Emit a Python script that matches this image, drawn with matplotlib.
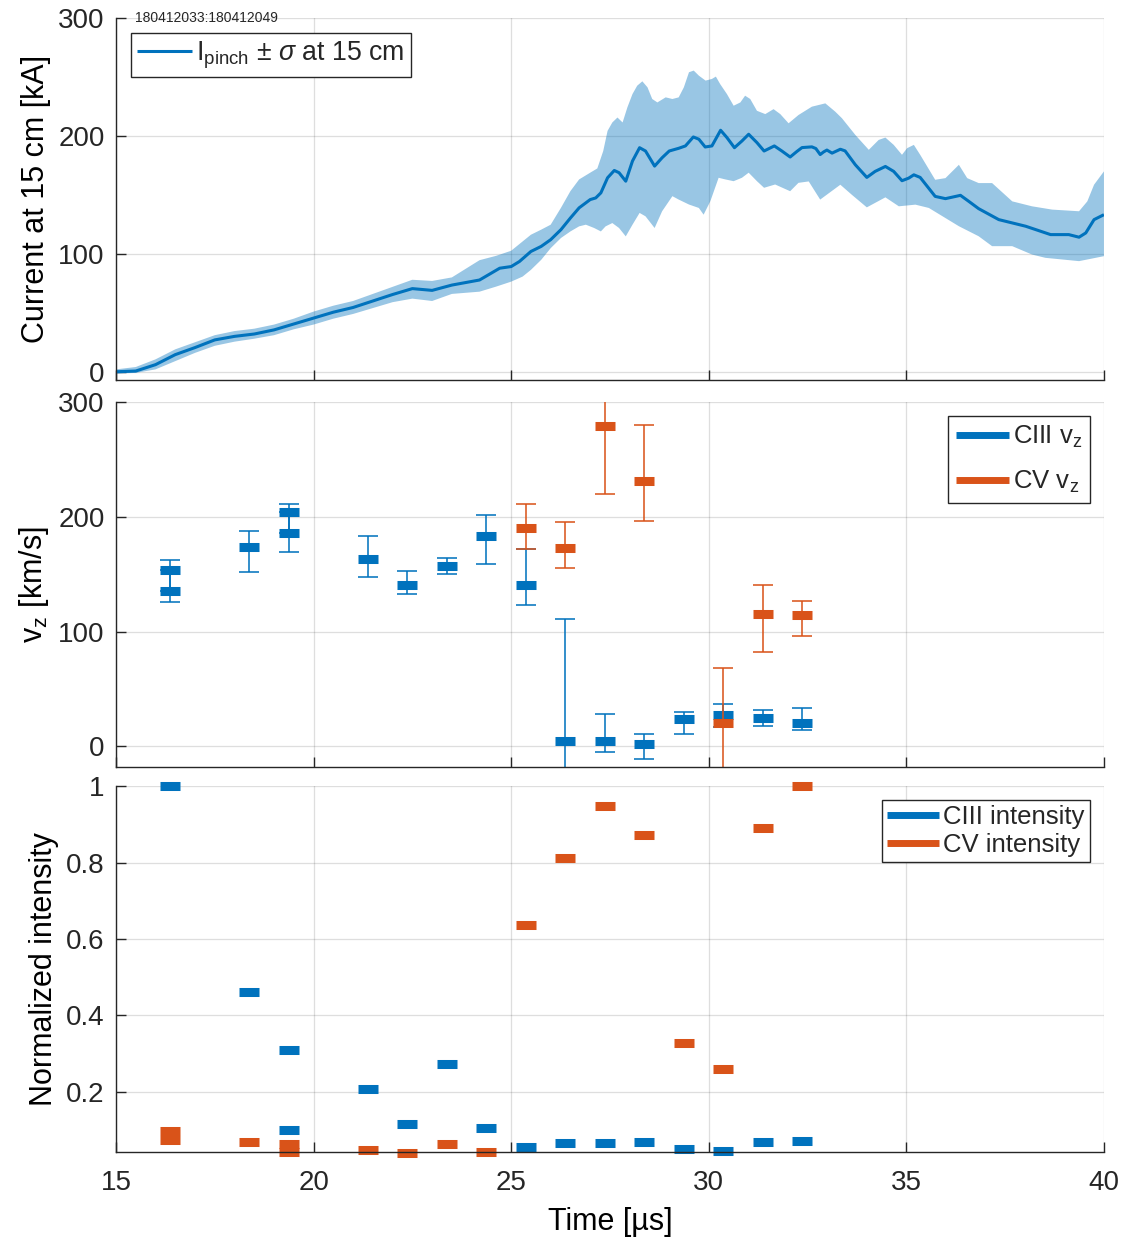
import matplotlib
matplotlib.use("Agg")
import matplotlib.pyplot as plt
import numpy as np
from matplotlib.lines import Line2D

plt.rcParams['font.family'] = ['Liberation Sans', 'DejaVu Sans']
plt.rcParams['mathtext.fontset'] = 'custom'
plt.rcParams['mathtext.rm'] = 'Liberation Sans'
plt.rcParams['mathtext.it'] = 'Liberation Sans:italic'
plt.rcParams['text.color'] = '#262626'

BLUE = '#0072BD'
ORANGE = '#D95319'
DARK = '#262626'

# pinch current at 15 cm: mean and +/- sigma envelope [kA] vs time [us]
t_mean = [15.0, 15.5, 16.0, 16.5, 17.0, 17.5, 18.0, 18.5, 19.0, 19.5, 20.0, 20.5,
          21.0, 21.5, 22.0, 22.5, 23.0, 23.5, 24.2, 24.45, 24.71, 25.0, 25.21, 25.5,
          25.76, 26.0, 26.26, 26.5, 26.72, 27.0, 27.14, 27.27, 27.44, 27.61, 27.73,
          27.9, 28.07, 28.25, 28.4, 28.63, 28.82, 29.0, 29.24, 29.41, 29.61, 29.75,
          29.91, 30.08, 30.3, 30.46, 30.65, 30.84, 31.01, 31.22, 31.4, 31.66, 31.85,
          32.06, 32.23, 32.36, 32.61, 32.71, 32.82, 32.91, 32.99, 33.12, 33.33, 33.45,
          33.71, 34.0, 34.21, 34.47, 34.68, 34.89, 35.06, 35.19, 35.35, 35.73, 35.99,
          36.37, 36.58, 36.83, 37.34, 38.02, 38.65, 39.11, 39.37, 39.54, 39.75, 40.0]
I_mean = [0, 0.6, 6, 14.5, 20.5, 27, 30, 32, 35.5, 40.5, 45.5, 50.5,
          54.5, 60, 65.5, 70.5, 69, 73.5, 77.8, 82.7, 87.8, 89.2, 93.5, 102,
          106.3, 112, 120.5, 130.4, 139, 146, 147.4, 151.7, 164.5, 170.7, 168.8,
          161.6, 178.7, 190, 187.2, 174.4, 181.5, 187.2, 189.5, 191.5, 199.1, 197.2,
          190.6, 191.5, 204.8, 198.6, 190, 195.7, 201.4, 194.3, 187.2, 191.5, 187.2,
          182.1, 186.8, 190.1, 190.7, 189.3, 184.2, 186.5, 188, 185.4, 188.7, 187.3,
          175.5, 164.8, 169.9, 174.1, 169.9, 162, 164.2, 167, 164.8, 148.7, 146.8,
          149.6, 144.5, 138.3, 129, 123.4, 116.3, 116.3, 114.1, 117.7, 129, 133.2]

t_upper = [15.0, 15.5, 16.0, 16.5, 17.0, 17.5, 18.0, 18.5, 19.0, 19.5, 20.0, 20.5,
           21.0, 21.5, 22.0, 22.5, 23.0, 23.5, 24.2, 24.62, 25.0, 25.29, 25.5, 25.76,
           26.0, 26.26, 26.5, 26.72, 27.0, 27.18, 27.33, 27.44, 27.56, 27.69, 27.82,
           27.94, 28.07, 28.19, 28.32, 28.45, 28.57, 28.7, 28.91, 29.08, 29.24, 29.37,
           29.5, 29.62, 29.75, 29.92, 30.08, 30.18, 30.29, 30.46, 30.63, 30.8, 30.92,
           31.05, 31.22, 31.43, 31.64, 31.81, 32.02, 32.27, 32.61, 32.95, 33.2, 33.37,
           33.71, 34.05, 34.3, 34.47, 34.68, 34.89, 35.02, 35.19, 35.35, 35.73, 35.99,
           36.33, 36.54, 36.83, 37.17, 37.68, 38.18, 38.69, 39.37, 39.58, 39.75, 40.0]
I_upper = [2, 4, 10.5, 19, 25, 31, 34.5, 36.5, 40, 45, 51, 56,
           60, 66, 72, 78, 77, 80, 94.6, 98.3, 102.6, 110.5, 116.2, 120.5,
           124.7, 139, 153.2, 163.1, 168.8, 172.4, 187.2, 204.3, 211.4, 215.6, 211.4,
           224.1, 235.5, 242.6, 246.3, 241.2, 231.3, 228.4, 232.7, 231.3, 232.7, 241.2,
           254, 255.4, 251.1, 246.9, 248.3, 250.3, 243.9, 235.5, 225.6, 228.4, 234.1,
           231.3, 221.3, 218.5, 222.7, 218.5, 210.7, 217.7, 224.8, 227.6, 220.6, 215,
           200.8, 188.2, 196.6, 198.6, 192.4, 184, 189.6, 192.4, 184, 162.8, 164.2,
           175.5, 164.2, 160, 160, 144.5, 140.3, 137.5, 136.1, 144.5, 158.6, 169.9]

t_lower = [15.0, 15.5, 16.0, 16.5, 17.0, 17.5, 18.0, 18.5, 19.0, 19.5, 20.0, 20.5,
           21.0, 21.5, 22.0, 22.5, 23.0, 23.5, 24.2, 24.62, 25.0, 25.29, 25.5, 25.76,
           26.0, 26.26, 26.5, 26.72, 26.89, 27.1, 27.27, 27.39, 27.56, 27.73, 27.9,
           28.07, 28.25, 28.4, 28.63, 28.82, 29.08, 29.24, 29.5, 29.75, 29.87, 30.04,
           30.25, 30.42, 30.63, 30.84, 31.01, 31.22, 31.4, 31.68, 32.06, 32.27, 32.53,
           32.82, 33.33, 33.62, 34.0, 34.47, 34.81, 35.23, 35.57, 36.33, 36.83, 37.17,
           37.68, 38.18, 38.52, 39.37, 40.0]
I_lower = [-1.5, -1, 2, 9, 16, 22, 25.5, 28, 31, 36, 40, 45,
           49, 54, 59, 62, 60, 66, 67.9, 72.2, 76.4, 80.7, 86.4, 94.9,
           104.8, 113.4, 119, 123.3, 124.7, 121.9, 119, 123.3, 126.1, 121.9, 114.8,
           124.7, 134.7, 131.8, 121.9, 136.1, 148.9, 146, 141.8, 138.9, 133.2, 144.6,
           164.5, 163.1, 161.6, 164.5, 168.8, 161.6, 156, 158.8, 153.1, 160.2, 161.4,
           146, 158.6, 150.1, 139.4, 147.9, 140.3, 141.7, 138.9, 123.4, 114.9, 106.5,
           106.5, 99.4, 96.6, 93.8, 98]

# axial velocities [km/s] with lower / upper bounds
t_c3 = [16.37, 16.37, 18.37, 19.37, 19.37, 21.37, 22.37, 23.37, 24.37, 25.37,
        26.37, 27.37, 28.37, 29.37, 30.37, 31.37, 32.37]
vz_c3 = [154, 135, 174, 204, 186, 163, 140.5, 157.5, 183, 140.5,
         5, 5, 1.7, 23.5, 27, 25, 20.5]
vz_c3_lo = [135, 126, 151.5, 186, 169.5, 147.5, 133, 150, 158.5, 123.5,
            -101, -5, -11.5, 11, 17, 17.5, 14]
vz_c3_hi = [162, 154, 187.5, 211.5, 204, 183.5, 152.5, 164, 201.5, 172,
            111, 28, 11, 30, 37, 31.5, 33]

t_c5 = [25.37, 26.37, 27.37, 28.37, 30.37, 31.37, 32.37]
vz_c5 = [190, 173, 279, 231, 20.5, 115, 114.5]
vz_c5_lo = [171.5, 155.5, 220, 196.5, -27, 82.5, 96]
vz_c5_hi = [211.5, 195, 338, 280, 68.5, 140.5, 127]

# normalized line intensities
t_c3_int = [16.37, 18.37, 19.37, 19.37, 21.37, 22.37, 23.37, 24.37, 25.37,
            26.37, 27.37, 28.37, 29.37, 30.37, 31.37, 32.37]
int_c3 = [1.0, 0.461, 0.31, 0.10, 0.208, 0.116, 0.273, 0.107, 0.056,
          0.066, 0.066, 0.0685, 0.050, 0.0466, 0.068, 0.072]
t_c5_int = [16.37, 16.37, 18.37, 19.37, 19.37, 21.37, 22.37, 23.37, 24.37,
            25.37, 26.37, 27.37, 28.37, 29.37, 30.37, 31.37, 32.37]
int_c5 = [0.098, 0.075, 0.0685, 0.065, 0.044, 0.0476, 0.040, 0.065, 0.044,
          0.637, 0.812, 0.948, 0.872, 0.328, 0.26, 0.89, 1.0]

FS_TICK = 20
FS_LABEL = 22
FS_LEG = 18.5

fig = plt.figure(figsize=(11.26, 12.41), dpi=100)
left, width = 0.1030, 0.8774
ax1 = fig.add_axes([left, 0.6938, width, 0.2917])
ax2 = fig.add_axes([left, 0.3820, width, 0.2941], sharex=ax1)
ax3 = fig.add_axes([left, 0.0717, width, 0.2949], sharex=ax1)


def style(ax):
    for s in ['top', 'right']:
        ax.spines[s].set_visible(False)
    for s in ['left', 'bottom']:
        ax.spines[s].set_color(DARK)
        ax.spines[s].set_linewidth(1.0)
    ax.tick_params(direction='in', length=7, width=1.0, colors=DARK,
                   labelsize=FS_TICK, top=False, right=False)
    ax.tick_params(axis='y', pad=8)
    ax.tick_params(axis='x', pad=13)
    ax.grid(True, color=DARK, alpha=0.15, linewidth=0.9)
    ax.set_axisbelow(True)


def boxed_legend(ax, *args, fs=FS_LEG, **kw):
    leg = ax.legend(*args, fontsize=fs, frameon=True, fancybox=False,
                    edgecolor=DARK, framealpha=1, borderaxespad=0.55,
                    handlelength=2.05, handletextpad=0.15, **kw)
    leg.get_frame().set_linewidth(1.0)
    return leg


# current
ax1.fill(np.concatenate([t_upper, t_lower[::-1]]),
         np.concatenate([I_upper, I_lower[::-1]]),
         color=BLUE, alpha=0.4, linewidth=0)
ax1.plot(t_mean, I_mean, color=BLUE, linewidth=2.2, solid_capstyle='butt',
         label=r'I$_{\mathrm{pinch}}$ $\pm$ $\sigma$ at 15 cm')
ax1.set_xlim(15, 40)
ax1.set_ylim(-7, 300)
ax1.set_yticks([0, 100, 200, 300])
ax1.set_xticks([15, 20, 25, 30, 35, 40])
style(ax1)
ax1.tick_params(axis='x', labelbottom=False)
ax1.set_ylabel('Current at 15 cm [kA]', fontsize=FS_LABEL)
ax1.yaxis.set_label_coords(-0.066, 0.5)
boxed_legend(ax1, loc='upper left', fs=19.2, borderpad=0.25)
ax1.text(0.019, 1.0, '180412033:180412049', transform=ax1.transAxes,
         fontsize=10, va='center', ha='left', color=DARK)

# axial velocity
eb = dict(fmt='none', capsize=7.2, capthick=1.4, elinewidth=1.4)
mk = dict(linestyle='none', marker='_', markersize=14.5, markeredgewidth=6.5)
ax2.errorbar(t_c3, vz_c3,
             yerr=[np.subtract(vz_c3, vz_c3_lo), np.subtract(vz_c3_hi, vz_c3)],
             ecolor=(0.0, 0.447, 0.741, 0.8), **eb)
ax2.plot(t_c3, vz_c3, color=BLUE, **mk)
ax2.errorbar(t_c5, vz_c5,
             yerr=[np.subtract(vz_c5, vz_c5_lo), np.subtract(vz_c5_hi, vz_c5)],
             ecolor=(0.851, 0.325, 0.098, 0.8), **eb)
ax2.plot(t_c5, vz_c5, color=ORANGE, **mk)
ax2.set_ylim(-18, 300)
ax2.set_yticks([0, 100, 200, 300])
style(ax2)
ax2.tick_params(axis='x', labelbottom=False)
ax2.set_ylabel(r'v$_{\mathrm{z}}$ [km/s]', fontsize=FS_LABEL)
ax2.yaxis.set_label_coords(-0.066, 0.5)
h2 = [Line2D([], [], color=BLUE, linewidth=5, solid_capstyle='butt'),
      Line2D([], [], color=ORANGE, linewidth=5, solid_capstyle='butt')]
boxed_legend(ax2, h2, [r'CIII v$_{\mathrm{z}}$', r'CV v$_{\mathrm{z}}$'],
             loc='upper right', borderpad=0.3, labelspacing=0.75)

# intensities
ax3.plot(t_c3_int, int_c3, color=BLUE, clip_on=False, **mk)
ax3.plot(t_c5_int, int_c5, color=ORANGE, clip_on=False, **mk)
ax3.set_ylim(0.043, 1.0)
ax3.set_yticks([0.2, 0.4, 0.6, 0.8, 1.0])
ax3.set_yticklabels(['0.2', '0.4', '0.6', '0.8', '1'])
style(ax3)
ax3.set_ylabel('Normalized intensity', fontsize=FS_LABEL)
ax3.yaxis.set_label_coords(-0.058, 0.5)
ax3.set_xlabel('Time [µs]', fontsize=FS_LABEL, labelpad=8)
h3 = [Line2D([], [], color=BLUE, linewidth=5, solid_capstyle='butt'),
      Line2D([], [], color=ORANGE, linewidth=5, solid_capstyle='butt')]
boxed_legend(ax3, h3, ['CIII intensity', 'CV intensity'],
             loc='upper right', borderpad=0.2, labelspacing=0.15)

fig.savefig('out.png', dpi=100)
